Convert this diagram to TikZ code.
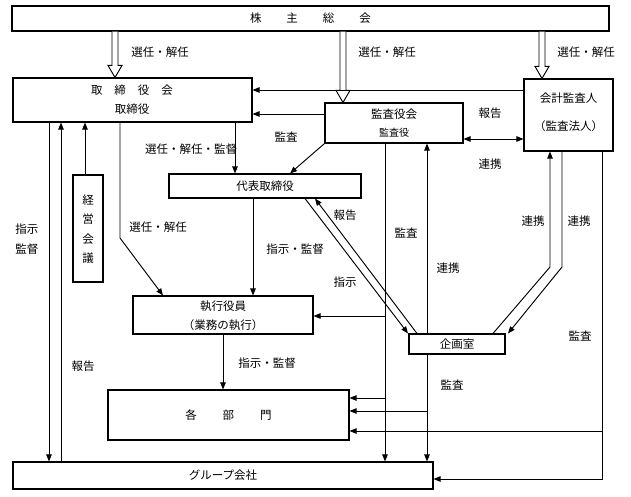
\documentclass[tikz,border=0pt]{standalone}
\usepackage{fontspec}
\newfontfamily\cjk{Noto Sans CJK JP}
\usetikzlibrary{arrows.meta,calc}
\newcommand\hollowarr[2]{%
  \draw[hollow] ($(#1)+(-3,0)$) -- ($(#2)+(-3,-12)$) -- ($(#2)+(-7,-12)$) -- (#2) -- ($(#2)+(7,-12)$) -- ($(#2)+(3,-12)$) -- ($(#1)+(3,0)$);}
\begin{document}
\begin{tikzpicture}[x=1pt,y=-1pt,
  box/.style={draw,line width=1.1pt,inner sep=0pt,fill=white,font=\cjk\fontsize{11.5}{13}\selectfont},
  txt/.style={inner sep=0pt,font=\cjk\fontsize{11.5}{13}\selectfont},
  small/.style={inner sep=0pt,font=\cjk\fontsize{10}{11}\selectfont},
  vtxt/.style={inner sep=0pt,align=center,font=\cjk\fontsize{11.5}{19.4}\selectfont},
  ln/.style={line width=0.95pt},
  arr/.style={ln,-{Triangle[length=7pt,width=5.5pt]}},
  darr/.style={ln,{Triangle[length=7pt,width=5.5pt]}-{Triangle[length=7pt,width=5.5pt]}},
  hollow/.style={line width=0.95pt,fill=white}]
\useasboundingbox (0,0) rectangle (631,496);

% boxes
\node[box,minimum width=597,minimum height=25] (kabu) at (310.5,18.5) {株\hspace{25pt}主\hspace{25pt}総\hspace{25pt}会};
\node[box,minimum width=239,minimum height=44] (tor) at (132.5,100) {};
\node[txt] (tor1) at (132,90) {取\hspace{12pt}締\hspace{12pt}役\hspace{12pt}会};
\node[txt] (tor2) at (132,109) {取締役};
\node[box,minimum width=138,minimum height=40] (kansa) at (394,123) {};
\node[txt] (kansa1) at (394,114) {監査役会};
\node[small] (kansa2) at (394,133) {監査役};
\node[box,minimum width=89,minimum height=72] (kaikei) at (568.5,115) {};
\node[txt] (kaikei1) at (568.5,98) {会計監査人};
\node[txt] (kaikei2) at (568.5,126) {（監査法人）};
\node[box,minimum width=192,minimum height=24] (daihyo) at (265,186) {代表取締役};
\node[box,minimum width=30,minimum height=107] (keiei) at (88,228.5) {};
\node[vtxt] (keieit) at (88,229) {経\\営\\会\\議};
\node[box,minimum width=180,minimum height=38] (shikko) at (223,315) {};
\node[txt] (shikko1) at (223,306) {執行役員};
\node[txt] (shikko2) at (223,325) {（業務の執行）};
\node[box,minimum width=96,minimum height=20] (kikaku) at (457,344) {企画室};
\node[box,minimum width=241,minimum height=50] (kakubu) at (228.5,415) {各\hspace{26pt}部\hspace{26pt}門};
\node[box,minimum width=420,minimum height=27] (group) at (223,475.5) {グループ会社};

% hollow arrows from 株主総会
\coordinate (h1a) at (kabu.south -| 115,0);
\coordinate (h1b) at (tor.north -| 115,0);
\hollowarr{h1a}{h1b}
\coordinate (h2a) at (kabu.south -| 343,0);
\coordinate (h2b) at (kansa.north -| 343,0);
\hollowarr{h2a}{h2b}
\coordinate (h3a) at (kabu.south -| 542,0);
\coordinate (h3b) at (kaikei.north -| 542,0);
\hollowarr{h3a}{h3b}
\node[txt] (sen1) at (160,52) {選任・解任};
\node[txt] (sen2) at (387,52) {選任・解任};
\node[txt] (sen3) at (586,52) {選任・解任};

% upper connectors
\draw[arr] (kaikei.west |- 0,90) -- (tor.east |- 0,90);
\draw[arr] (kansa.west |- 0,114) -- (tor.east |- 0,114);
\draw[darr] (kansa.east |- 0,139) -- (kaikei.west |- 0,139);
\node[txt] (hok1) at (490,113) {報告};
\node[txt] (ren1) at (490,164) {連携};
\draw[arr] (kansa.south west) -- (daihyo.north -| 290,0);
\node[txt] (kansaL1) at (286,137) {監査};
\draw[arr] (tor.south -| 235,0) -- (daihyo.north -| 235,0);
\node[txt] (senkan) at (191,149) {選任・解任・監督};

% left side
\draw[arr] (tor.south -| 49,0) -- (group.north -| 49,0);
\draw[arr] (group.north -| 61,0) -- (tor.south -| 61,0);
\node[txt] (shiji1) at (27,229) {指示};
\node[txt] (kantoku1) at (27,249) {監督};
\node[txt] (hok2) at (83,366) {報告};
\draw[arr] (keiei.north -| 85,0) -- (tor.south -| 85,0);
\coordinate (b1) at (120,238);
\draw[arr] (tor.south -| 120,0) -- (b1) -- (shikko.north -| 163,0);
\node[txt] (sen4) at (158,227) {選任・解任};
\draw[arr] (daihyo.south -| 253,0) -- (shikko.north -| 253,0);
\node[txt] (shikan1) at (295,249) {指示・監督};
\draw[arr] (shikko.south -| 223,0) -- (kakubu.north -| 223,0);
\node[txt] (shikan2) at (267,363) {指示・監督};

% 代表取締役 <-> 企画室
\draw[arr] (daihyo.south -| 305,0) -- (kikaku.north -| 408,0);
\draw[arr] (kikaku.north -| 417,0) -- (daihyo.south -| 315,0);
\node[txt] (hok3) at (345,215) {報告};
\node[txt] (shiji2) at (345,282) {指示};

% 監査役会 audit line
\coordinate (k1) at (385,316);
\coordinate (k2) at (385,398);
\draw[arr] (kansa.south -| 385,0) -- (group.north -| 385,0);
\draw[arr] (k1) -- (shikko.east |- k1);
\draw[arr] (k2) -- (kakubu.east |- k2);
\node[txt] (kansaL2) at (406,233) {監査};

% 企画室 lines
\draw[arr] (kikaku.north -| 427,0) -- (kansa.south -| 427,0);
\node[txt] (ren2) at (448,268) {連携};
\coordinate (p1) at (427,411);
\draw[arr] (kikaku.south -| 427,0) -- (group.north -| 427,0);
\draw[arr] (p1) -- (kakubu.east |- p1);
\node[txt] (kansaL3) at (452,385) {監査};

% 会計監査人 lines
\coordinate (c1) at (550,267);
\coordinate (c2) at (562,267);
\draw[arr] (kikaku.north -| 493,0) -- (c1) -- (kaikei.south -| c1);
\draw[arr] (kaikei.south -| c2) -- (c2) -- (kikaku.north -| 508,0);
\node[txt] (ren3) at (533,221) {連携};
\node[txt] (ren4) at (579,221) {連携};
\coordinate (c3) at (602,479);
\coordinate (c4) at (602,431);
\draw[arr] (kaikei.south -| c3) -- (c3) -- (group.east |- c3);
\draw[arr] (c4) -- (kakubu.east |- c4);
\node[txt] (kansaL4) at (580,336) {監査};
\end{tikzpicture}
\end{document}
